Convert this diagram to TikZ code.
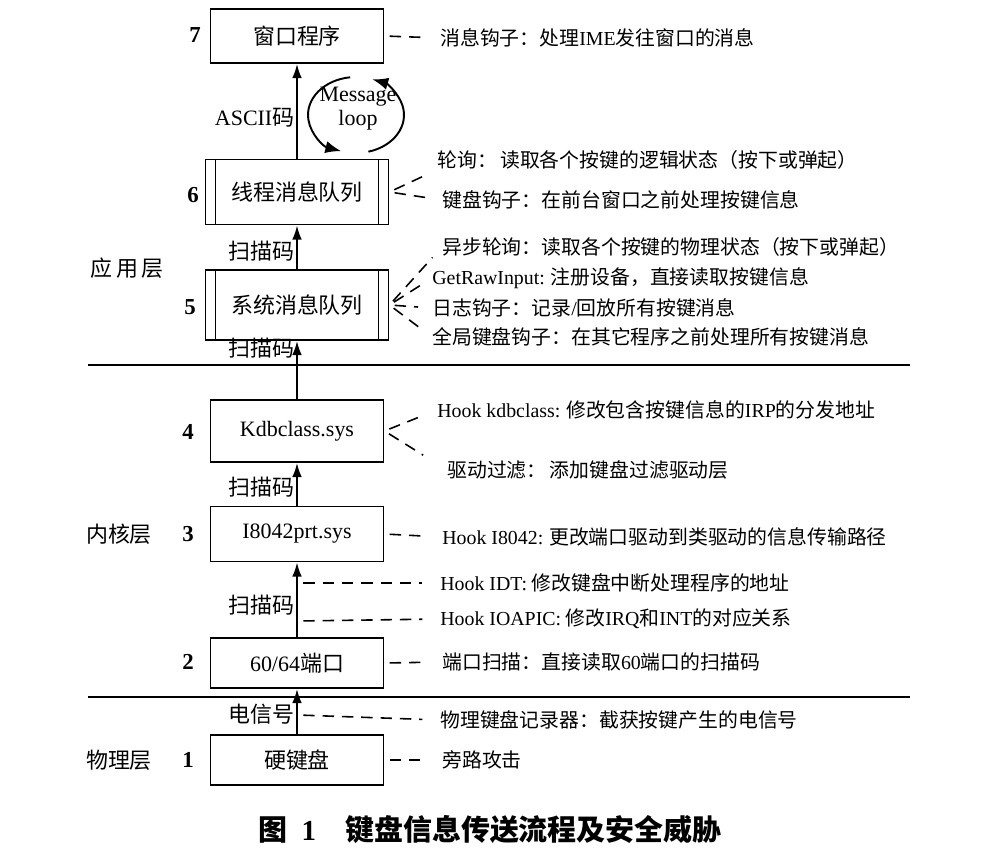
\documentclass[tikz,border=0pt]{standalone}
\usepackage{fontspec}
\setmainfont{Liberation Serif}
\newfontfamily\cjk{Noto Sans CJK SC}
\usetikzlibrary{arrows.meta}
\newcommand\en[1]{{\rmfamily #1}}
\tikzset{
  blk/.style={draw, line width=1.1pt, minimum width=3.46cm, inner sep=0pt,
    font=\cjk\fontsize{12.5}{15}\selectfont},
  queue/.style={blk, minimum width=3.66cm,
    path picture={\draw[line width=1.1pt]
      ([xshift=0.2cm]path picture bounding box.north west) -- ([xshift=0.2cm]path picture bounding box.south west)
      ([xshift=-0.2cm]path picture bounding box.north east) -- ([xshift=-0.2cm]path picture bounding box.south east);}},
  flow/.style={line width=1.1pt, -{Latex[length=8pt,width=5.5pt]}},
  hk/.style={line width=0.9pt, dash pattern=on 6.5pt off 4.5pt, shorten <=3pt, shorten >=8pt},
  side/.style={anchor=west, inner sep=0pt, font=\cjk\fontsize{11.3}{13}\selectfont},
  lbl/.style={inner sep=1pt, font=\cjk\fontsize{12.5}{15}\selectfont},
  num/.style={font=\fontsize{13}{15}\selectfont\bfseries}
}
\begin{document}
\begin{tikzpicture}[x=0.02cm, y=-0.02cm]
        \useasboundingbox (0,0) rectangle (984,848);
        % boxes
        \node[blk, minimum height=1.08cm] (b7) at (297,36) {窗口程序};
        \node[queue, minimum height=1.3cm] (b6) at (297,192) {线程消息队列};
        \node[queue, minimum height=1.4cm] (b5) at (297,305) {系统消息队列};
        \node[blk, minimum height=1.24cm, font=\fontsize{12.5}{15}\selectfont] (b4) at (297,431) {Kdbclass.sys};
        \node[blk, minimum height=1.1cm, font=\fontsize{12.5}{15}\selectfont] (b3) at (297,534) {I8042prt.sys};
        \node[blk, minimum height=1.0cm] (b2) at (297,663) {\en{60/64}端口};
        \node[blk, minimum height=1.0cm] (b1) at (297,760) {硬键盘};
        % numbers and layers
        \node[num] (n7) at (195,35) {7};
        \node[num] (n6) at (193,195) {6};
        \node[num] (n5) at (190,307) {5};
        \node[num] (n4) at (188,432) {4};
        \node[num] (n3) at (188,534) {3};
        \node[num] (n2) at (188,662) {2};
        \node[num] (n1) at (188,760) {1};
        \node[lbl] (app) at (127,268) {应\,用\,层};
        \node[lbl] (kern) at (119,534) {内核层};
        \node[lbl] (phys) at (119,760) {物理层};
        \draw[line width=1pt] (88,365) -- (910,365);
        \draw[line width=1pt] (88,697) -- (910,697);
        % data flow
        \draw[flow] (b6.north) -- node[lbl, left, pos=0.43] {\en{ASCII}码} (b7.south);
        \draw[flow] (b5.north) -- node[lbl, left, pos=0.4] {扫描码} (b6.south);
        \draw[flow] (b4.north) -- node[lbl, left, pos=0.87] {扫描码} (b5.south);
        \draw[flow] (b3.north) -- node[lbl, left, pos=0.44] {扫描码} (b4.south);
        \draw[flow] (b2.north) -- node[lbl, left, pos=0.43] {扫描码} (b3.south);
        \draw[flow] (b1.north) -- node[lbl, left, pos=0.43] {电信号} (b2.south);
        % message loop
        \node[align=center, inner sep=0pt, font=\fontsize{12.5}{13.5}\selectfont] (loop) at (358,109) {Message\\loop};
        \begin{scope}[shift={(356,115)}, x=1cm, y=1cm, line width=1.1pt, -{Latex[length=9pt,width=7pt]}]
          \draw (97:0.96cm and 0.76cm) arc[start angle=97, end angle=252, x radius=0.96cm, y radius=0.76cm];
          \draw (-75:0.96cm and 0.76cm) arc[start angle=-75, end angle=70, x radius=0.96cm, y radius=0.76cm];
        \end{scope}
        % threats
        \node[side] (t7) at (440,38) {消息钩子：处理\en{IME}发往窗口的消息};
        \node[side] (t6a) at (437,160) {轮询：\,读取各个按键的逻辑状态（按下或弹起）};
        \node[side] (t6b) at (442,200) {键盘钩子：在前台窗口之前处理按键信息};
        \node[side] (t5a) at (442,247) {异步轮询：读取各个按键的物理状态（按下或弹起）};
        \node[side] (t5b) at (432,278) {\en{GetRawInput:} 注册设备，直接读取按键信息};
        \node[side] (t5c) at (432,308) {日志钩子：记录\en{/}回放所有按键消息};
        \node[side] (t5d) at (432,337) {全局键盘钩子：在其它程序之前处理所有按键消息};
        \node[side] (t4a) at (437,410) {\en{Hook kdbclass:} 修改包含按键信息的\en{IRP}的分发地址};
        \node[side] (t4b) at (447,470) {驱动过滤：\,添加键盘过滤驱动层};
        \node[side] (t3) at (442,537) {\en{Hook I8042:} 更改端口驱动到类驱动的信息传输路径};
        \node[side] (tidt) at (440,583) {\en{Hook IDT:} 修改键盘中断处理程序的地址};
        \node[side] (tio) at (440,619) {\en{Hook IOAPIC:} 修改\en{IRQ}和\en{INT}的对应关系};
        \node[side] (t2) at (442,662) {端口扫描：直接读取\en{60}端口的扫描码};
        \node[side] (tel) at (440,720) {物理键盘记录器：截获按键产生的电信号};
        \node[side] (t1) at (442,760) {旁路攻击};
        \coordinate (a1) at (298,583);
        \coordinate (a2) at (298,621);
        \coordinate (a3) at (298,715);
        \draw[hk] (b7.east) -- (t7.west);
        \draw[hk] (b6.east) -- (t6a.south west);
        \draw[hk] (b6.east) -- (t6b.west);
        \draw[hk] (b5.east) -- (t5a.west);
        \draw[hk] (b5.east) -- (t5b.west);
        \draw[hk] (b5.east) -- (t5c.west);
        \draw[hk] (b5.east) -- (t5d.west);
        \draw[hk] (b4.east) -- (t4a.west);
        \draw[hk, shorten >=16pt] (b4.east) -- (t4b.west);
        \draw[hk] (b3.east) -- (t3.west);
        \draw[hk, shorten >=10pt] (a1) -- (tidt.west);
        \draw[hk, shorten >=10pt] (a2) -- (tio.west);
        \draw[hk, shorten >=10pt] (a3) -- (tel.west);
        \draw[hk] (b2.east) -- (t2.west);
        \draw[hk] (b1.east) -- (t1.west);
        % caption
        \node[font=\cjk\fontsize{16.5}{20}\selectfont\bfseries] (cap) at (490,830) {图\enspace\en{1}\quad 键盘信息传送流程及安全威胁};
    \end{tikzpicture}
\end{document}
